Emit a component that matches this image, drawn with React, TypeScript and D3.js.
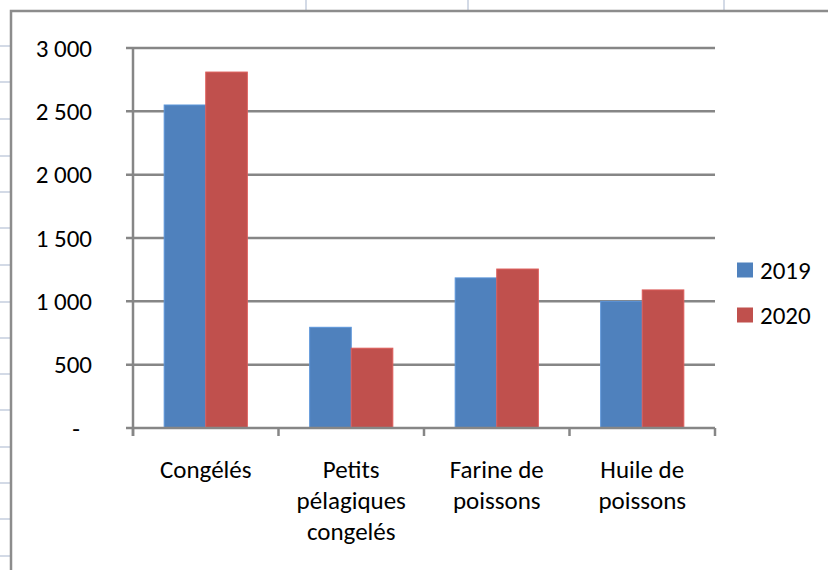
import React, { useEffect, useRef } from 'react';
import * as d3 from 'd3';

const categories = ['Congélés', 'Petits pélagiques congelés', 'Farine de poissons', 'Huile de poissons'];
// label lines as they wrap in the picture
const categoryLines = [['Congélés'], ['Petits', 'pélagiques', 'congelés'], ['Farine de', 'poissons'], ['Huile de', 'poissons']];
const seriesNames = ['2019', '2020'];
const values2019 = [2550, 795, 1185, 1000];
const values2020 = [2810, 630, 1255, 1090];
const yTicks = [0, 500, 1000, 1500, 2000, 2500, 3000];

const colors = ['#4f81bd', '#c0504d'];
const FONT = 'Carlito, Calibri, Lato, sans-serif';
const FS = 25;

// spreadsheet cell borders peeking round the chart object
const sheetCols = [306, 468, 724];
const sheetRows = [46, 82, 119, 156, 192, 228, 265, 302, 338, 374, 410, 447, 483, 519, 556];

export default function App() {
  const ref = useRef<SVGSVGElement>(null);

  useEffect(() => {
    const svg = d3.select(ref.current);
    svg.selectAll('*').remove();

    const W = 828, H = 570;
    svg.append('rect').attr('width', W).attr('height', H).attr('fill', '#fff');

    // sheet grid
    svg.selectAll('line.col').data(sheetCols).enter().append('line')
      .attr('x1', (d) => d).attr('x2', (d) => d).attr('y1', 0).attr('y2', 11)
      .attr('stroke', '#d3dae6').attr('stroke-width', 2);
    svg.selectAll('line.row').data(sheetRows).enter().append('line')
      .attr('x1', 0).attr('x2', 11).attr('y1', (d) => d).attr('y2', (d) => d)
      .attr('stroke', '#d3dae6').attr('stroke-width', 2);

    // chart frame
    svg.append('path').attr('d', `M11,${H + 2}V11H${W + 2}`)
      .attr('fill', 'none').attr('stroke', '#8c8c8c').attr('stroke-width', 2.5);

    const left = 133, right = 715, top = 48, bottom = 428;
    const y = d3.scaleLinear().domain([0, 3000]).range([bottom, top]);
    const x0 = d3.scaleBand().domain(categories).range([left, right]);
    const x1 = d3.scaleBand().domain(seriesNames).range([0, x0.bandwidth()]).paddingInner(0).paddingOuter(0.75);

    const axisColor = '#868686';

    // gridlines + y ticks
    svg.append('g').selectAll('line').data(yTicks).enter().append('line')
      .attr('x1', left - 7).attr('x2', (d) => (d === 0 ? left : right))
      .attr('y1', (d) => y(d)).attr('y2', (d) => y(d))
      .attr('stroke', axisColor).attr('stroke-width', 2.5);

    // bars
    const series = [values2019, values2020];
    series.forEach((vals, si) => {
      svg.append('g').selectAll('rect').data(vals).enter().append('rect')
        .attr('x', (d, i) => x0(categories[i])! + x1(seriesNames[si])!)
        .attr('y', (d) => y(d))
        .attr('width', x1.bandwidth())
        .attr('height', (d) => y(0) - y(d))
        .attr('fill', colors[si])
        .attr('stroke', d3.color(colors[si])!.brighter(0.4).toString())
        .attr('stroke-width', 1);
    });

    // axes lines
    svg.append('line').attr('x1', left).attr('x2', left).attr('y1', top).attr('y2', bottom + 8)
      .attr('stroke', axisColor).attr('stroke-width', 2.5);
    svg.append('line').attr('x1', left).attr('x2', right).attr('y1', bottom).attr('y2', bottom)
      .attr('stroke', axisColor).attr('stroke-width', 2.5);
    const bounds = categories.map((c) => x0(c)!).concat([right]);
    svg.append('g').selectAll('line').data(bounds).enter().append('line')
      .attr('x1', (d) => d).attr('x2', (d) => d).attr('y1', bottom).attr('y2', bottom + 8)
      .attr('stroke', axisColor).attr('stroke-width', 2.5);

    // y labels
    const fmt = (v: number) => (v === 0 ? '-' : d3.format(',')(v).replace(',', ' '));
    svg.append('g').selectAll('text').data(yTicks).enter().append('text')
      .attr('x', (d) => (d === 0 ? 80 : 92))
      .attr('y', (d) => y(d))
      .attr('dy', '0.35em')
      .attr('text-anchor', 'end')
      .attr('font-family', FONT).attr('font-size', FS).attr('fill', '#000')
      .text((d) => fmt(d));

    // category labels
    categories.forEach((c, i) => {
      const cx = x0(c)! + x0.bandwidth() / 2;
      const t = svg.append('text')
        .attr('x', cx)
        .attr('y', 478)
        .attr('text-anchor', 'middle')
        .attr('font-family', FONT).attr('font-size', FS).attr('fill', '#000');
      categoryLines[i].forEach((line, li) => {
        t.append('tspan').attr('x', cx).attr('dy', li === 0 ? 0 : 31).text(line);
      });
    });

    // legend
    const lg = svg.append('g');
    seriesNames.forEach((s, i) => {
      const cy = 270 + i * 45;
      lg.append('rect').attr('x', 737).attr('y', cy - 7.5).attr('width', 16).attr('height', 15).attr('fill', colors[i]);
      lg.append('text').attr('x', 760).attr('y', cy).attr('dy', '0.35em')
        .attr('font-family', FONT).attr('font-size', FS).attr('fill', '#000').text(s);
    });
  }, []);

  return (
    <svg ref={ref} width={828} height={570} style={{ position: 'absolute', left: 0, top: 0, display: 'block' }} />
  );
}
